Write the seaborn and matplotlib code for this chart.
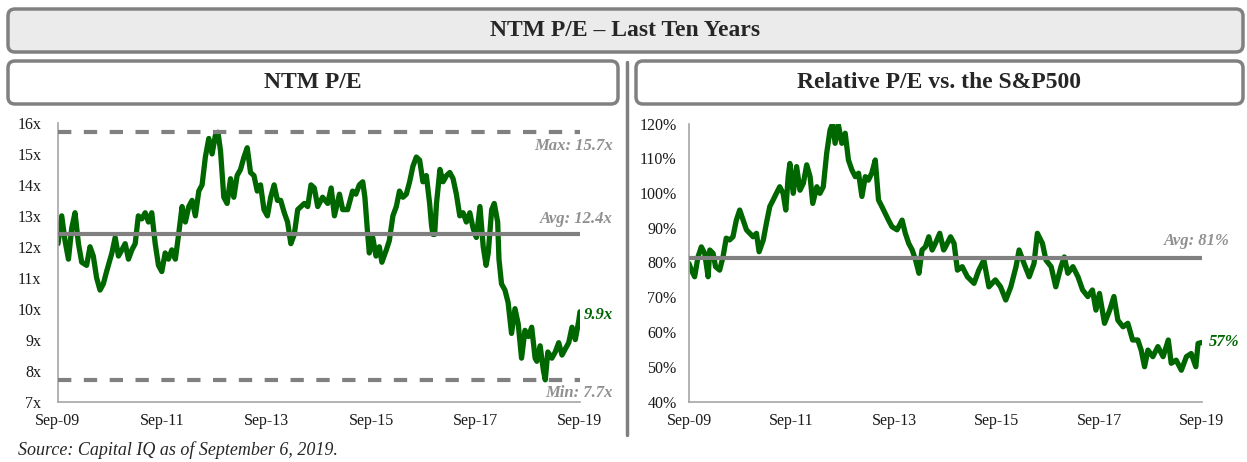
import matplotlib
matplotlib.use("Agg")
import matplotlib.pyplot as plt
from matplotlib.patches import FancyBboxPatch
import seaborn as sns
import pandas as pd

# values (NTM P/E and relative P/E vs. S&P500)
pe_dates = ['2009-09-06', '2009-10-02', '2009-10-25', '2009-11-18', '2009-12-11', '2010-01-03', '2010-01-27',
            '2010-02-19', '2010-03-25', '2010-04-18', '2010-05-11', '2010-06-03', '2010-06-27', '2010-07-20',
            '2010-08-12', '2010-09-18', '2010-10-11', '2010-11-03', '2010-11-27', '2010-12-20', '2011-01-12',
            '2011-02-05', '2011-02-28', '2011-03-22', '2011-04-15', '2011-05-09', '2011-06-01', '2011-06-24',
            '2011-07-18', '2011-08-10', '2011-09-02', '2011-09-26', '2011-10-19', '2011-11-11', '2011-12-06',
            '2011-12-29', '2012-01-22', '2012-02-14', '2012-03-09', '2012-04-01', '2012-04-24', '2012-05-18',
            '2012-06-10', '2012-07-03', '2012-07-27', '2012-08-19', '2012-09-11', '2012-09-29', '2012-10-17',
            '2012-11-09', '2012-12-02', '2012-12-26', '2013-01-18', '2013-02-10', '2013-03-06', '2013-03-30',
            '2013-04-22', '2013-05-15', '2013-06-08', '2013-07-01', '2013-07-24', '2013-08-17', '2013-09-10',
            '2013-10-03', '2013-10-27', '2013-11-19', '2013-12-12', '2014-01-06', '2014-01-29', '2014-02-21',
            '2014-03-17', '2014-04-10', '2014-05-03', '2014-05-26', '2014-06-19', '2014-07-12', '2014-08-04',
            '2014-08-28', '2014-10-01', '2014-11-06', '2014-11-30', '2014-12-23', '2015-01-27', '2015-02-19',
            '2015-03-25', '2015-04-29', '2015-05-22', '2015-06-15', '2015-07-09', '2015-07-24', '2015-08-11',
            '2015-08-24', '2015-09-17', '2015-10-10', '2015-11-02', '2015-11-20', '2015-12-21', '2016-01-11',
            '2016-02-05', '2016-02-29', '2016-03-22', '2016-04-15', '2016-05-09', '2016-06-01', '2016-06-24',
            '2016-07-18', '2016-08-10', '2016-09-02', '2016-09-26', '2016-10-19', '2016-11-01', '2016-11-11',
            '2016-11-23', '2016-12-06', '2016-12-30', '2017-01-21', '2017-02-14', '2017-03-09', '2017-04-01',
            '2017-04-24', '2017-05-18', '2017-06-10', '2017-07-03', '2017-07-27', '2017-08-19', '2017-09-11',
            '2017-10-06', '2017-10-29', '2017-11-18', '2017-12-03', '2017-12-27', '2018-01-14', '2018-02-07',
            '2018-02-16', '2018-03-06', '2018-03-30', '2018-04-21', '2018-05-15', '2018-06-08', '2018-07-01',
            '2018-07-24', '2018-08-17', '2018-09-10', '2018-10-03', '2018-10-27', '2018-11-08', '2018-12-01',
            '2018-12-24', '2019-01-06', '2019-01-24', '2019-02-21', '2019-03-17', '2019-04-10', '2019-05-03',
            '2019-05-26', '2019-06-19', '2019-07-12', '2019-08-04', '2019-08-28', '2019-09-06']
pe_values = [12.1, 13.0, 12.2, 11.6, 12.6, 13.1, 12.1, 11.5, 11.4, 12.0, 11.7, 11.0, 10.6, 10.8, 11.2, 11.8,
             12.3, 11.7, 11.9, 12.1, 11.6, 11.9, 12.1, 13.0, 12.9, 13.1, 12.8, 13.1, 12.1, 11.4, 11.2, 11.8,
             11.6, 11.9, 11.6, 12.4, 13.3, 12.8, 13.3, 13.5, 13.0, 13.8, 14.0, 14.9, 15.5, 15.0, 15.6, 15.7,
             15.1, 13.6, 13.4, 14.2, 13.6, 14.3, 14.5, 14.9, 15.2, 14.4, 14.3, 13.8, 14.0, 13.2, 13.0, 13.6,
             14.0, 13.5, 13.5, 13.1, 12.8, 12.1, 12.4, 13.2, 13.3, 13.4, 13.3, 14.0, 13.9, 13.3,
             13.6, 13.4, 13.9, 13.0, 13.7, 13.2, 13.2, 13.8, 13.7, 14.0, 14.1, 13.6, 12.5, 11.8, 12.3, 11.7,
             12.0, 11.5, 11.9, 12.2, 13.0, 13.3, 13.8, 13.6, 13.7, 14.1, 14.6, 14.9, 14.8, 14.1, 14.3, 13.4,
             12.7, 12.4, 12.4, 13.4, 14.5, 14.1, 14.3, 14.4, 14.2, 13.7, 13.0, 13.1, 12.8, 13.1, 12.6, 12.3,
             13.3, 12.0, 11.4, 11.8, 13.2, 13.4, 12.8, 11.6, 10.8, 10.6, 10.2, 9.2, 10.0, 9.5, 8.4, 9.3,
             9.1, 9.4, 8.4, 8.3, 8.8, 8.0, 7.7, 8.6, 8.4, 8.6, 8.9, 8.5, 8.7, 8.9, 9.4, 9.0, 9.6, 9.9]

rel_dates = ['2009-09-06', '2009-09-23', '2009-10-16', '2009-11-09', '2009-12-03', '2009-12-27', '2010-01-20',
             '2010-02-01', '2010-02-25', '2010-03-14', '2010-04-12', '2010-05-06', '2010-05-29', '2010-06-22',
             '2010-07-16', '2010-08-09', '2010-09-02', '2010-09-26', '2010-10-20', '2010-11-13', '2010-12-06',
             '2010-12-30', '2011-01-18', '2011-02-17', '2011-03-11', '2011-04-04', '2011-04-28', '2011-05-21',
             '2011-06-14', '2011-07-08', '2011-07-27', '2011-08-13', '2011-08-25', '2011-09-18', '2011-10-12',
             '2011-11-05', '2011-11-29', '2011-12-23', '2012-01-16', '2012-02-04', '2012-03-04', '2012-03-26',
             '2012-04-19', '2012-05-13', '2012-06-06', '2012-06-25', '2012-07-12', '2012-08-05', '2012-08-29',
             '2012-09-22', '2012-10-15', '2012-11-09', '2012-12-03', '2012-12-26', '2013-01-19', '2013-02-12',
             '2013-03-06', '2013-03-30', '2013-04-24', '2013-05-17', '2013-06-10', '2013-07-04', '2013-07-27',
             '2013-08-21', '2013-09-26', '2013-11-01', '2013-11-24', '2013-12-18', '2014-01-12', '2014-02-05',
             '2014-03-01', '2014-03-23', '2014-04-16', '2014-05-10', '2014-06-03', '2014-06-26', '2014-07-27',
             '2014-08-24', '2014-09-06', '2014-10-12', '2014-11-06', '2014-11-30', '2015-01-03', '2015-02-09',
             '2015-03-28', '2015-05-01', '2015-06-06', '2015-07-12', '2015-08-27', '2015-10-03', '2015-11-09',
             '2015-12-15', '2016-01-21', '2016-02-12', '2016-03-18', '2016-04-24', '2016-05-28', '2016-06-21',
             '2016-07-27', '2016-08-21', '2016-09-27', '2016-10-30', '2016-12-06', '2016-12-30', '2017-01-24',
             '2017-03-01', '2017-04-06', '2017-05-09', '2017-06-15', '2017-07-18', '2017-08-12', '2017-09-06',
             '2017-10-12', '2017-11-18', '2017-12-18', '2018-01-15', '2018-02-21', '2018-03-27', '2018-04-30',
             '2018-06-06', '2018-06-30', '2018-07-24', '2018-08-17', '2018-09-21', '2018-10-27', '2018-12-03',
             '2019-01-09', '2019-01-30', '2019-03-06', '2019-04-12', '2019-05-18', '2019-06-21', '2019-07-24',
             '2019-08-09', '2019-09-06']
rel_values = [79.7, 77.8, 75.9, 81.6, 84.5, 82.6, 75.9, 83.6, 82.6, 78.8, 77.8, 81.6, 87.0, 86.5, 87.4, 92.2,
              95.1, 92.2, 89.4, 88.4, 87.4, 88.4, 83.1, 86.5, 91.3, 96.1, 98.0, 99.9, 101.8, 99.9, 95.1, 104.7,
              108.5, 99.9, 107.6, 100.8, 102.8, 108.1, 104.7, 97.0, 101.8, 99.9, 101.8, 111.4, 118.1, 120.0,
              114.3, 119.5, 114.3, 117.2, 109.5, 106.6, 104.7, 105.7, 99.0, 104.7, 103.7, 105.7, 109.5, 98.0,
              96.1, 94.1, 92.2, 90.3, 89.4, 92.2, 88.4, 85.5, 83.6, 80.7, 76.9, 83.6, 84.5, 87.4, 83.6, 85.5,
              88.4, 83.6, 84.5, 87.4, 85.5, 77.8, 78.8, 75.9, 74.0, 77.8, 80.7, 73.0, 75.0, 73.0, 69.2, 73.0,
              78.8, 83.6, 79.7, 75.9, 79.7, 88.4, 85.5, 80.7, 78.8, 73.0, 78.8, 81.6, 76.9, 78.8, 75.9, 72.1,
              70.2, 72.1, 66.3, 71.1, 62.5, 66.3, 70.2, 63.4, 61.5, 62.5, 57.7, 57.7, 54.8, 50.0, 54.8, 52.9,
              55.8, 52.9, 57.7, 51.0, 51.9, 49.0, 52.9, 53.8, 50.0, 56.7, 57.0]

pe_max, pe_avg, pe_min = 15.7, 12.4, 7.7
rel_avg = 81.4
tick_dates = ['2009-09-06', '2011-09-06', '2013-09-06', '2015-09-06', '2017-09-06', '2019-09-06']
tick_labels = ['Sep-09', 'Sep-11', 'Sep-13', 'Sep-15', 'Sep-17', 'Sep-19']

sns.set_theme(style="white")
plt.rcParams['font.family'] = ['Liberation Serif', 'DejaVu Serif']

GREEN = '#006600'
GREY = '#808080'
LABEL_GREY = '#909090'

pe_df = pd.DataFrame({'Date': pd.to_datetime(pe_dates), 'PE': pe_values})
rel_df = pd.DataFrame({'Date': pd.to_datetime(rel_dates), 'Rel': rel_values})
ticks = pd.to_datetime(tick_dates)

W, H = 1247, 462
fig = plt.figure(figsize=(W / 100, H / 100), dpi=100)

# background layer in pixel coordinates for the header boxes
bg = fig.add_axes([0, 0, 1, 1])
bg.set_xlim(0, W)
bg.set_ylim(H, 0)
bg.axis('off')

def header_box(x0, y0, x1, y1, fill):
    bg.add_patch(FancyBboxPatch((x0, y0), x1 - x0, y1 - y0,
                                boxstyle="round,pad=0,rounding_size=7",
                                facecolor=fill, edgecolor=GREY, linewidth=2.5))

bg.plot([627, 627], [62, 435], color=GREY, lw=2.5)
header_box(8, 9, 1243, 52, '#ebebeb')
header_box(8, 61, 618, 104, 'white')
header_box(636, 61, 1243, 104, 'white')
bg.text(625, 31, 'NTM P/E \u2013 Last Ten Years', ha='center', va='center', fontsize=17, fontweight='bold')
bg.text(313, 83, 'NTM P/E', ha='center', va='center', fontsize=17, fontweight='bold')
bg.text(939, 83, 'Relative P/E vs. the S&P500', ha='center', va='center', fontsize=17, fontweight='bold')
bg.text(18, 450, 'Source: Capital IQ as of September 6, 2019.', ha='left', va='center',
        fontsize=13, style='italic')

ax1 = fig.add_axes([58 / W, 1 - 401.5 / H, 522 / W, 278.5 / H])
ax2 = fig.add_axes([689 / W, 1 - 401.5 / H, 513 / W, 278 / H])

# left: NTM P/E
sns.lineplot(data=pe_df, x='Date', y='PE', ax=ax1, color=GREEN, lw=3.8, zorder=2)
ax1.axhline(pe_max, color=GREY, lw=3, dashes=(3.2, 3.0), zorder=3)
ax1.axhline(pe_min, color=GREY, lw=3, dashes=(3.2, 3.0), zorder=3)
ax1.axhline(pe_avg, color=GREY, lw=3, zorder=3)
ax1.set_ylim(7, 16)
ax1.set_yticks(range(7, 17))
ax1.set_yticklabels([f'{v}x' for v in range(7, 17)])
tr1 = ax1.get_yaxis_transform()
lab_font = dict(fontsize=12, fontweight='bold', style='italic', ha='right', va='center')
ax1.annotate(f'Max: {pe_max}x', (1.063, pe_max), xycoords=tr1, xytext=(0, -10),
             textcoords='offset points', color=LABEL_GREY, annotation_clip=False, **lab_font)
ax1.annotate(f'Avg: {pe_avg}x', (1.063, pe_avg), xycoords=tr1, xytext=(0, 11),
             textcoords='offset points', color=LABEL_GREY, annotation_clip=False, **lab_font)
ax1.annotate(f'Min: {pe_min}x', (1.063, pe_min), xycoords=tr1, xytext=(0, -9.5),
             textcoords='offset points', color=LABEL_GREY, annotation_clip=False, **lab_font)
ax1.annotate(f'{pe_values[-1]}x', (1.063, pe_values[-1]), xycoords=tr1, xytext=(0, -2),
             textcoords='offset points', color=GREEN, annotation_clip=False, **lab_font)

# right: relative P/E vs. S&P500
sns.lineplot(data=rel_df, x='Date', y='Rel', ax=ax2, color=GREEN, lw=3.8, zorder=2)
ax2.axhline(rel_avg, color=GREY, lw=3, zorder=3)
ax2.set_ylim(40, 120)
ax2.set_yticks(range(40, 121, 10))
ax2.set_yticklabels([f'{v}%' for v in range(40, 121, 10)])
tr2 = ax2.get_yaxis_transform()
ax2.annotate(f'Avg: {rel_avg:.0f}%', (1.055, rel_avg), xycoords=tr2, xytext=(0, 12),
             textcoords='offset points', color=LABEL_GREY, annotation_clip=False, **lab_font)
ax2.annotate(f'{rel_values[-1]:.0f}%', (1.013, rel_values[-1]), xycoords=tr2, xytext=(0, 0),
             textcoords='offset points', color=GREEN, annotation_clip=False,
             fontsize=12, fontweight='bold', style='italic', ha='left', va='center')

for ax, pad in ((ax1, 12), (ax2, 9)):
    ax.set_xlim(ticks[0], ticks[-1])
    ax.set_xticks(ticks)
    ax.set_xticklabels(tick_labels)
    ax.set_xlabel('')
    ax.set_ylabel('')
    ax.set_facecolor('none')
    for side in ('top', 'right'):
        ax.spines[side].set_visible(False)
    for side in ('left', 'bottom'):
        ax.spines[side].set_color('#a6a6a6')
        ax.spines[side].set_linewidth(1.2)
    ax.tick_params(axis='y', length=0, labelsize=11.5, pad=pad, colors='#1a1a1a')
    ax.tick_params(axis='x', length=0, labelsize=11.5, pad=8, colors='#1a1a1a')

fig.savefig('out.png', dpi=100, facecolor='white')
